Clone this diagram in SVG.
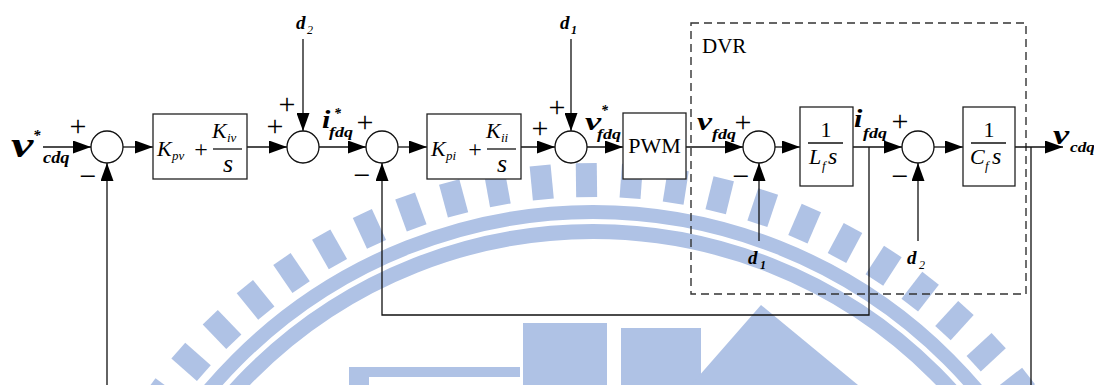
<svg xmlns="http://www.w3.org/2000/svg" width="1094" height="385" viewBox="0 0 1094 385">
<defs>
<style>
.ln{stroke:#111;stroke-width:1.3;fill:none}
.blk{fill:#fff;stroke:#222;stroke-width:1.3}
.sum{fill:#fff;stroke:#111;stroke-width:1.3}
.dash{fill:none;stroke:#333;stroke-width:1.4;stroke-dasharray:8 5}
.f{font-family:"Liberation Serif","Times New Roman",serif;fill:#000}
.bi{font-weight:bold;font-style:italic}
.it{font-style:italic}
.pm{font-size:30px;text-anchor:middle}
.wm{fill:#afc2e5}
.wmb{fill:none;stroke:#afc2e5}
</style>
<marker id="ah" markerUnits="userSpaceOnUse" markerWidth="18" markerHeight="13" refX="18" refY="6.5" orient="auto">
<path d="M0,0 L18,6.5 L0,13 z" fill="#000"/>
</marker>
<rect id="tick" class="wm" x="-10.5" y="-552" width="21" height="34"/>
</defs>
<rect width="1094" height="385" fill="#fff"/>

<g id="watermark">
<g transform="translate(593 715)">
<use href="#tick" transform="rotate(-53.5)"/><use href="#tick" transform="rotate(-48.7)"/>
<use href="#tick" transform="rotate(-43.9)"/><use href="#tick" transform="rotate(-39.1)"/>
<use href="#tick" transform="rotate(-34.3)"/><use href="#tick" transform="rotate(-29.5)"/>
<use href="#tick" transform="rotate(-24.7)"/><use href="#tick" transform="rotate(-19.9)"/>
<use href="#tick" transform="rotate(-15.1)"/><use href="#tick" transform="rotate(-10.3)"/>
<use href="#tick" transform="rotate(-5.5)"/><use href="#tick" transform="rotate(-0.7)"/>
<use href="#tick" transform="rotate(4.1)"/><use href="#tick" transform="rotate(8.9)"/>
<use href="#tick" transform="rotate(13.7)"/><use href="#tick" transform="rotate(18.5)"/>
<use href="#tick" transform="rotate(23.3)"/><use href="#tick" transform="rotate(28.1)"/>
<use href="#tick" transform="rotate(32.9)"/><use href="#tick" transform="rotate(37.7)"/>
<use href="#tick" transform="rotate(42.5)"/><use href="#tick" transform="rotate(47.3)"/>
<use href="#tick" transform="rotate(52.1)"/>
</g>
<circle class="wmb" cx="593" cy="715" r="503" stroke-width="14"/>
<circle class="wmb" cx="593" cy="715" r="483.5" stroke-width="15"/>
<rect class="wm" x="349" y="367" width="171" height="10"/>
<rect class="wm" x="349" y="367" width="20" height="18"/>
<rect class="wm" x="523" y="323" width="84" height="62"/>
<rect class="wm" x="621" y="328" width="80" height="57"/>
<path class="wm" d="M761,305 L858,385 L691,385 Z"/>
</g>

<g id="dvr">
<rect class="dash" x="691" y="23" width="335" height="271"/>
<text class="f" x="702" y="53" font-size="21">DVR</text>
</g>

<g id="connectors">
<path class="ln" d="M43,147 H91" marker-end="url(#ah)"/>
<path class="ln" d="M123,147 H153" marker-end="url(#ah)"/>
<path class="ln" d="M247,147 H287" marker-end="url(#ah)"/>
<path class="ln" d="M303,39 V131" marker-end="url(#ah)"/>
<path class="ln" d="M319,147 H366" marker-end="url(#ah)"/>
<path class="ln" d="M398,147 H427" marker-end="url(#ah)"/>
<path class="ln" d="M521,147 H555" marker-end="url(#ah)"/>
<path class="ln" d="M571,39 V131" marker-end="url(#ah)"/>
<path class="ln" d="M587,147 H623" marker-end="url(#ah)"/>
<path class="ln" d="M686,147 H743" marker-end="url(#ah)"/>
<path class="ln" d="M775,147 H800" marker-end="url(#ah)"/>
<path class="ln" d="M853,147 H902" marker-end="url(#ah)"/>
<path class="ln" d="M869,147 V315 H382 V163" marker-end="url(#ah)"/>
<path class="ln" d="M759,241 V163" marker-end="url(#ah)"/>
<path class="ln" d="M934,147 H963" marker-end="url(#ah)"/>
<path class="ln" d="M918,241 V163" marker-end="url(#ah)"/>
<path class="ln" d="M1015,147 H1063" marker-end="url(#ah)"/>
<path class="ln" d="M1031,147 V400 H107 V163" marker-end="url(#ah)"/>
</g>

<g id="sum1"><circle class="sum" cx="107" cy="147" r="16"/>
<text class="f pm" x="78" y="136">+</text><text class="f pm" x="88" y="186">−</text></g>
<g id="sum2"><circle class="sum" cx="303" cy="147" r="16"/>
<text class="f pm" x="275" y="136">+</text><text class="f pm" x="287" y="114">+</text></g>
<g id="sum3"><circle class="sum" cx="382" cy="147" r="16"/>
<text class="f pm" x="365" y="132">+</text><text class="f pm" x="362" y="185">−</text></g>
<g id="sum4"><circle class="sum" cx="571" cy="147" r="16"/>
<text class="f pm" x="540" y="138">+</text><text class="f pm" x="557" y="117">+</text></g>
<g id="sum5"><circle class="sum" cx="759" cy="147" r="16"/>
<text class="f pm" x="743" y="132">+</text><text class="f pm" x="741" y="186">−</text></g>
<g id="sum6"><circle class="sum" cx="918" cy="147" r="16"/>
<text class="f pm" x="900" y="131">+</text><text class="f pm" x="900" y="186">−</text></g>

<g id="kpv">
<rect class="blk" x="153" y="114" width="94" height="65"/>
<text class="f it" x="157" y="156" font-size="22">K</text>
<text class="f it" x="172" y="160" font-size="13">pv</text>
<text class="f" x="201" y="157" font-size="24" text-anchor="middle">+</text>
<text class="f it" x="212" y="138" font-size="22">K</text>
<text class="f it" x="227" y="142" font-size="13">iv</text>
<line class="ln" x1="213" y1="149" x2="242" y2="149" stroke-width="1"/>
<text class="f it" x="228" y="172" font-size="26" text-anchor="middle">s</text>
</g>

<g id="kpi">
<rect class="blk" x="427" y="114" width="94" height="65"/>
<text class="f it" x="431" y="156" font-size="22">K</text>
<text class="f it" x="446" y="160" font-size="13">pi</text>
<text class="f" x="475" y="157" font-size="24" text-anchor="middle">+</text>
<text class="f it" x="486" y="138" font-size="22">K</text>
<text class="f it" x="501" y="142" font-size="13">ii</text>
<line class="ln" x1="487" y1="149" x2="516" y2="149" stroke-width="1"/>
<text class="f it" x="502" y="172" font-size="26" text-anchor="middle">s</text>
</g>

<g id="pwm">
<rect class="blk" x="623" y="113" width="63" height="66"/>
<text class="f" x="654.5" y="153" font-size="22" text-anchor="middle">PWM</text>
</g>

<g id="lf">
<rect class="blk" x="800" y="107" width="53" height="79"/>
<text class="f" x="826" y="137" font-size="22" text-anchor="middle">1</text>
<line class="ln" x1="808" y1="143" x2="843" y2="143" stroke-width="1"/>
<text class="f it" x="809" y="164" font-size="22">L</text>
<text class="f it" x="822" y="170" font-size="13">f</text>
<text class="f it" x="828" y="164" font-size="24">s</text>
</g>

<g id="cf">
<rect class="blk" x="963" y="107" width="52" height="79"/>
<text class="f" x="989" y="137" font-size="22" text-anchor="middle">1</text>
<line class="ln" x1="971" y1="143" x2="1006" y2="143" stroke-width="1"/>
<text class="f it" x="970" y="164" font-size="22">C</text>
<text class="f it" x="985" y="170" font-size="13">f</text>
<text class="f it" x="992" y="164" font-size="24">s</text>
</g>

<g id="labels">
<text class="f bi" transform="translate(11 157) scale(1.4 1)" font-size="36">v</text>
<text class="f bi" x="33" y="140" font-size="15">*</text>
<text class="f bi" transform="translate(43 163) scale(1.15 1)" font-size="16">cdq</text>

<text class="f bi" x="296" y="29" font-size="19">d</text>
<text class="f it" x="307" y="34" font-size="12">2</text>
<text class="f bi" x="560" y="29" font-size="19">d</text>
<text class="f bi" x="571" y="34" font-size="12">1</text>

<text class="f bi" transform="translate(322 128) scale(1.2 1)" font-size="25">i</text>
<text class="f bi" x="334" y="118" font-size="14">*</text>
<text class="f bi" transform="translate(329 137) scale(1.2 1)" font-size="15">fdq</text>

<text class="f bi" transform="translate(585 130) scale(1.4 1)" font-size="26">v</text>
<text class="f bi" x="601" y="115" font-size="14">*</text>
<text class="f bi" transform="translate(597 139) scale(1.2 1)" font-size="15">fdq</text>

<text class="f bi" transform="translate(697 130) scale(1.3 1)" font-size="26">v</text>
<text class="f bi" transform="translate(712 139) scale(1.2 1)" font-size="15">fdq</text>

<text class="f bi" transform="translate(854 127) scale(1.2 1)" font-size="25">i</text>
<text class="f bi" transform="translate(863 138) scale(1.2 1)" font-size="15">fdq</text>

<text class="f bi" transform="translate(1053 144) scale(1.3 1)" font-size="28">v</text>
<text class="f bi" transform="translate(1070 152) scale(1.15 1)" font-size="15">cdq</text>

<text class="f bi" x="748" y="264" font-size="19">d</text>
<text class="f bi" x="760" y="269" font-size="12">1</text>
<text class="f bi" x="907" y="264" font-size="19">d</text>
<text class="f it" x="919" y="269" font-size="12">2</text>
</g>
</svg>
